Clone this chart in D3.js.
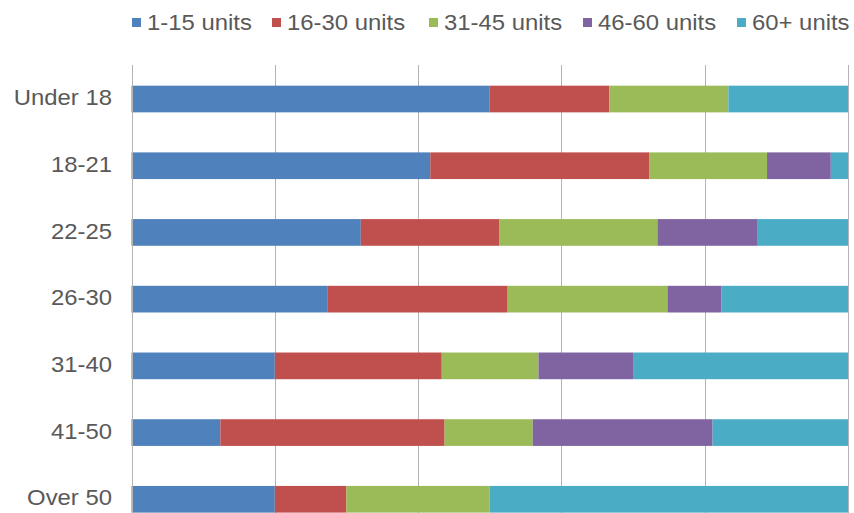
<!DOCTYPE html>
<html>
<head>
<meta charset="utf-8">
<script src="https://cdn.jsdelivr.net/npm/d3@7"></script>
<style>
html,body{margin:0;padding:0;background:#fff;}
svg{display:block;}
</style>
</head>
<body>
<svg id="chart" width="854" height="513"></svg>
<script>
const categories = ["Under 18","18-21","22-25","26-30","31-40","41-50","Over 50"];
const seriesNames = ["1-15 units","16-30 units","31-45 units","46-60 units","60+ units"];
const s1_15  = [50.0, 41.7, 32.0, 27.4, 20.0, 12.4, 20.0];
const s16_30 = [16.7, 30.6, 19.3, 25.1, 23.3, 31.3, 10.0];
const s31_45 = [16.6, 16.4, 22.1, 22.3, 13.5, 12.3, 20.0];
const s46_60 = [0.0,  8.9, 13.9,  7.5, 13.2, 25.1,  0.0];
const s60p   = [16.7,  2.4, 12.7, 17.7, 30.0, 18.9, 50.0];
const xTicks = [0, 20, 40, 60, 80, 100];
const colors = ["#4F81BD","#C0504D","#9BBB59","#8064A2","#4BACC6"];

const seriesValues = [s1_15, s16_30, s31_45, s46_60, s60p];
const rows = categories.map((c, i) => {
  const r = {category: c};
  let tot = 0;
  seriesNames.forEach((s, j) => { tot += seriesValues[j][i]; });
  seriesNames.forEach((s, j) => { r[s] = seriesValues[j][i] / tot * 100; });
  return r;
});

const svg = d3.select("#chart");
const pLeft = 131.5, pRight = 848, pTop = 65, pBottom = 533.3;
const font = "'Liberation Sans', Arial, sans-serif";
const textColor = "#595959";
const fontSize = 22, stretch = 1.085;

const x = d3.scaleLinear().domain([0, 100]).range([pLeft, pRight]);
const y = d3.scaleBand().domain(categories).range([pTop, pBottom]).paddingInner(0.6).paddingOuter(0.31);

// gridlines
svg.append("g").selectAll("line").data(xTicks).join("line")
  .attr("x1", d => Math.round(x(d)) + 0.5).attr("x2", d => Math.round(x(d)) + 0.5)
  .attr("y1", pTop).attr("y2", pBottom)
  .attr("stroke", "#b3b3b3").attr("stroke-width", 1);

const stacked = d3.stack().keys(seriesNames)(rows);

svg.append("g").selectAll("g").data(stacked).join("g")
  .attr("fill", (d, i) => colors[i])
  .selectAll("rect").data(d => d).join("rect")
  .attr("x", d => x(d[0]))
  .attr("width", d => Math.max(0, x(d[1]) - x(d[0])))
  .attr("y", d => y(d.data.category))
  .attr("height", y.bandwidth());

// left axis line
svg.append("line")
  .attr("x1", Math.round(x(0)) + 0.5).attr("x2", Math.round(x(0)) + 0.5)
  .attr("y1", pTop).attr("y2", pBottom)
  .attr("stroke", "#b3b3b3").attr("stroke-width", 1);

function widen(sel) {
  sel.each(function() {
    const w = this.getComputedTextLength();
    d3.select(this).attr("textLength", w * stretch).attr("lengthAdjust", "spacingAndGlyphs");
  });
}

// category labels
const yAxis = d3.axisLeft(y).tickSize(0).tickPadding(20);
const ya = svg.append("g").attr("transform", `translate(${Math.round(x(0))},0)`).call(yAxis);
ya.select(".domain").remove();
ya.selectAll("text").attr("font-family", font).attr("font-size", fontSize).attr("fill", textColor).attr("dy", "0.28em");
widen(ya.selectAll("text"));

// legend
const legendX = [132, 272, 429, 583, 737];
const lg = svg.append("g");
seriesNames.forEach((s, i) => {
  lg.append("rect").attr("x", legendX[i]).attr("y", 18).attr("width", 9).attr("height", 9).attr("fill", colors[i]);
  const t = lg.append("text").attr("x", legendX[i] + 15).attr("y", 29.5)
    .attr("font-family", font).attr("font-size", fontSize).attr("fill", textColor).text(s);
  widen(t);
});
</script>
</body>
</html>
